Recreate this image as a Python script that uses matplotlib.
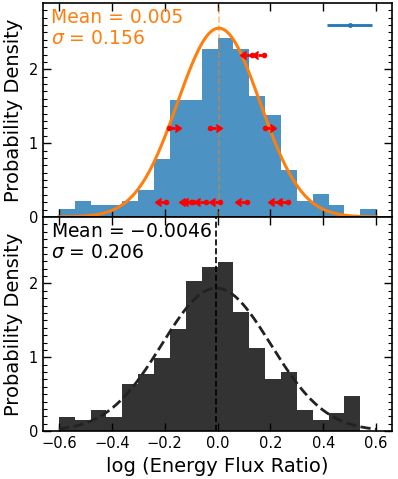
import matplotlib
matplotlib.use('Agg')
import matplotlib.pyplot as plt
import numpy as np

# histogram bin edges (shared by both panels)
edges = np.linspace(-0.6, 0.6, 21)

# top panel: probability density per bin
top_density = [0.104, 0.213, 0.158, 0.158, 0.213, 0.371, 0.79, 1.59, 1.59, 2.28,
               2.43, 2.28, 1.64, 1.375, 0.633, 0.213, 0.317, 0.158, 0.0, 0.104]
top_mean = 0.005
top_sigma = 0.156

# bottom panel: probability density per bin
bot_density = [0.191, 0.155, 0.282, 0.191, 0.636, 0.768, 0.995, 1.382, 2.03, 2.227,
               2.29, 1.614, 1.123, 0.705, 0.805, 0.282, 0.155, 0.25, 0.477, 0.0]
bot_mean = -0.0046
bot_sigma = 0.206

# red limit markers: arrows pointing left (upper limits)
left_lim_x = [-0.193, -0.102, -0.091, -0.045, 0.011, 0.110, 0.235, 0.265, 0.129, 0.174]
left_lim_y = [0.2, 0.2, 0.2, 0.2, 0.2, 0.2, 0.2, 0.2, 2.2, 2.2]
# red limit markers: arrows pointing right (lower limits)
right_lim_x = [-0.182, -0.027, 0.178]
right_lim_y = [1.2, 1.2, 1.2]
arrow_len = 0.022

# representative error bar
rep_x, rep_y, rep_err = 0.5, 2.6, 0.085


def gauss(x, mu, sig):
    return np.exp(-0.5 * ((x - mu) / sig) ** 2) / (sig * np.sqrt(2 * np.pi))


centers = 0.5 * (edges[1:] + edges[:-1])
xx = np.linspace(-0.6, 0.6, 400)

fig, (ax1, ax2) = plt.subplots(2, 1, figsize=(3.98, 4.79), dpi=100, sharex=True)
fig.subplots_adjust(left=0.108, right=0.985, top=0.994, bottom=0.1, hspace=0)

# top panel
ax1.hist(centers, bins=edges, weights=top_density, color='#1f77b4', alpha=0.8)
ax1.plot(xx, gauss(xx, top_mean, top_sigma), color='#ff7f0e', lw=2.2)
ax1.axvline(top_mean, color='#ff7f0e', ls='--', lw=1.2, alpha=0.5)

lx = np.array(left_lim_x)
rx = np.array(right_lim_x)
n_l, n_r = len(lx), len(rx)
ax1.errorbar(lx, left_lim_y, xerr=[np.full(n_l, arrow_len), np.zeros(n_l)],
             fmt='o', ms=3, color='red', lw=2, capsize=0)
ax1.plot(lx - arrow_len, left_lim_y, ls='none', marker=8, ms=6, color='red')
ax1.errorbar(rx, right_lim_y, xerr=[np.zeros(n_r), np.full(n_r, arrow_len)],
             fmt='o', ms=3, color='red', lw=2, capsize=0)
ax1.plot(rx + arrow_len, right_lim_y, ls='none', marker=9, ms=6, color='red')

ax1.errorbar(rep_x, rep_y, xerr=rep_err, fmt='o', ms=2.5, color='#1f77b4', lw=2)
ax1.text(0.022, 0.975, 'Mean = 0.005\n$\\sigma$ = 0.156', transform=ax1.transAxes,
         va='top', ha='left', color='#ff7f0e', fontsize=13.5, linespacing=1.1)

# bottom panel
ax2.hist(centers, bins=edges, weights=bot_density, color='black', alpha=0.8)
ax2.plot(xx, gauss(xx, bot_mean, bot_sigma), color='#222222', ls='--', lw=2)
ax2.axvline(bot_mean, color='black', ls='--', lw=1.2)
ax2.text(0.022, 0.975, 'Mean = $-$0.0046\n$\\sigma$ = 0.206', transform=ax2.transAxes,
         va='top', ha='left', color='black', fontsize=13.5, linespacing=1.1)

for ax in (ax1, ax2):
    ax.set_xlim(-0.66, 0.66)
    ax.set_ylim(0, 2.9)
    ax.set_yticks([0, 1, 2])
    ax.set_yticks(np.arange(0, 2.9, 0.1), minor=True)
    ax.set_xticks(np.arange(-0.6, 0.61, 0.2))
    ax.tick_params(which='both', direction='in', top=True, right=True, labelsize=10.5)
    ax.tick_params(which='major', length=6, width=1)
    ax.tick_params(which='minor', length=3, width=0.8)
    ax.set_ylabel('Probability Density', fontsize=14)
    for s in ax.spines.values():
        s.set_linewidth(1.2)

ax2.set_xlabel('log (Energy Flux Ratio)', fontsize=14)

plt.savefig('out.png', dpi=100)
